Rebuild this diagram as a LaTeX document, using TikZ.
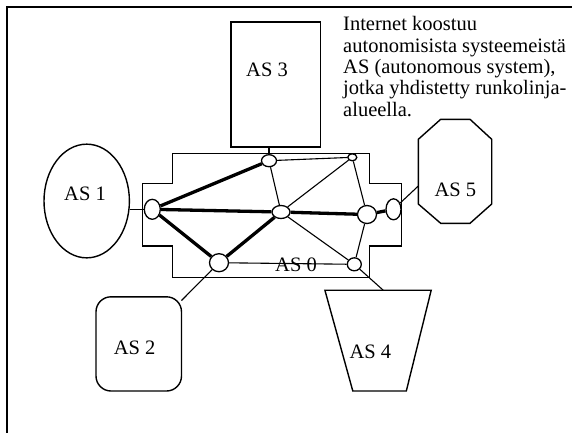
\documentclass[tikz,border=0pt]{standalone}
\usepackage{fontspec}
\setmainfont{Liberation Serif}
\usetikzlibrary{shapes.geometric}
\begin{document}
\begin{tikzpicture}[x=1pt,y=-1pt,
  shapeline/.style={line width=1.4pt},
  router/.style={ellipse,draw,fill=white,line width=1.3pt,inner sep=0pt},
  thickedge/.style={line width=3.3pt},
  thinedge/.style={line width=1.1pt},
  lbl/.style={anchor=base,inner sep=0pt,font=\fontsize{20.5}{21.4}\selectfont}]
\useasboundingbox (0,0) rectangle (572,432);
% outer frame
\draw[line width=2pt] (6.7,440) -- (6.7,6.7) -- (580,6.7);
% backbone outline
\draw[shapeline,line width=1.5pt] (172.7,153.3) -- (369.3,153.3) -- (369.3,183.3) -- (401.7,183.3) -- (401.7,246) -- (369.3,246) -- (369.3,277.3) -- (172.7,277.3) -- (172.7,246) -- (142.7,246) -- (142.7,183.3) -- (172.7,183.3) -- cycle;
% AS shapes
\node[draw,shapeline,minimum width=89.6pt,minimum height=125.2pt,inner sep=0pt] (as3) at (275.75,84.55) {};
\node[draw,shapeline,ellipse,minimum width=85.4pt,minimum height=113.7pt,inner sep=0pt] (as1) at (86.7,201) {};
\draw[shapeline,rounded corners=15pt] (96,296.8) rectangle (181.5,391);
\draw[shapeline] (324.9,290.2) -- (431.2,290.2) -- (406.3,391) -- (352.8,391) -- cycle;
\draw[shapeline] (440.7,119.3) -- (470,119.3) -- (491.7,139.3) -- (491.7,204) -- (470,223.3) -- (440.7,223.3) -- (418.3,204) -- (418.3,139.3) -- cycle;
\coordinate (c5) at (418.3,186);
\coordinate (c2) at (181.5,300.5);
\coordinate (c4) at (383.2,290.2);
% routers
\node[router,minimum width=15pt,minimum height=12pt] (ntop) at (269,160.7) {};
\node[router,minimum width=9pt,minimum height=7pt] (ntr) at (352.3,157.3) {};
\node[router,minimum width=16pt,minimum height=20pt] (nleft) at (152.3,209.3) {};
\node[router,minimum width=18pt,minimum height=13pt] (ncenter) at (281,212) {};
\node[router,minimum width=19pt,minimum height=18pt] (nright) at (367,214.5) {};
\node[router,minimum width=15pt,minimum height=21pt] (nfar) at (393.5,209.3) {};
\node[router,minimum width=19pt,minimum height=18pt] (nbottom) at (219,262.7) {};
\node[router,minimum width=14pt,minimum height=13pt] (nbr) at (354.3,264.3) {};
% connections to AS
\draw[thinedge] (ntop) -- (ntop |- as3.south);
\draw[thinedge] (nleft) -- (as1.east |- nleft);
\draw[thinedge] (nfar) -- (c5);
\draw[thinedge] (nbottom) -- (c2);
\draw[thinedge] (nbr) -- (c4);
% backbone links
\draw[thickedge] (nleft) -- (ntop);
\draw[thickedge] (nleft) -- (ncenter);
\draw[thickedge] (ncenter) -- (nright);
\draw[thickedge] (nright) -- (nfar);
\draw[thickedge] (nleft) -- (nbottom);
\draw[thickedge] (nbottom) -- (ncenter);
\draw[thinedge] (ntop) -- (ntr);
\draw[thinedge] (ntop) -- (ncenter);
\draw[thinedge] (ncenter) -- (ntr);
\draw[thinedge] (ntr) -- (nright);
\draw[thinedge] (ncenter) -- (nbr);
\draw[thinedge] (nright) -- (nbr);
\draw[thinedge] (nbottom) -- (nbr);
% labels
\node[lbl] (l3) at (267,76.7) {AS 3};
\node[lbl] (l1) at (85,200) {AS 1};
\node[lbl] (l5) at (455.3,196) {AS 5};
\node[lbl] (l2) at (134.6,354.4) {AS 2};
\node[lbl] (l4) at (370.4,358) {AS 4};
\node[lbl] (l0) at (296,271) {AS 0};
\node[lbl,anchor=base west] (txt) at (343,30.7) {\begin{tabular}[t]{@{}l@{}}Internet koostuu\\autonomisista systeemeistä\\AS (autonomous system),\\jotka yhdistetty runkolinja-\\alueella.\end{tabular}};
\end{tikzpicture}
\end{document}
